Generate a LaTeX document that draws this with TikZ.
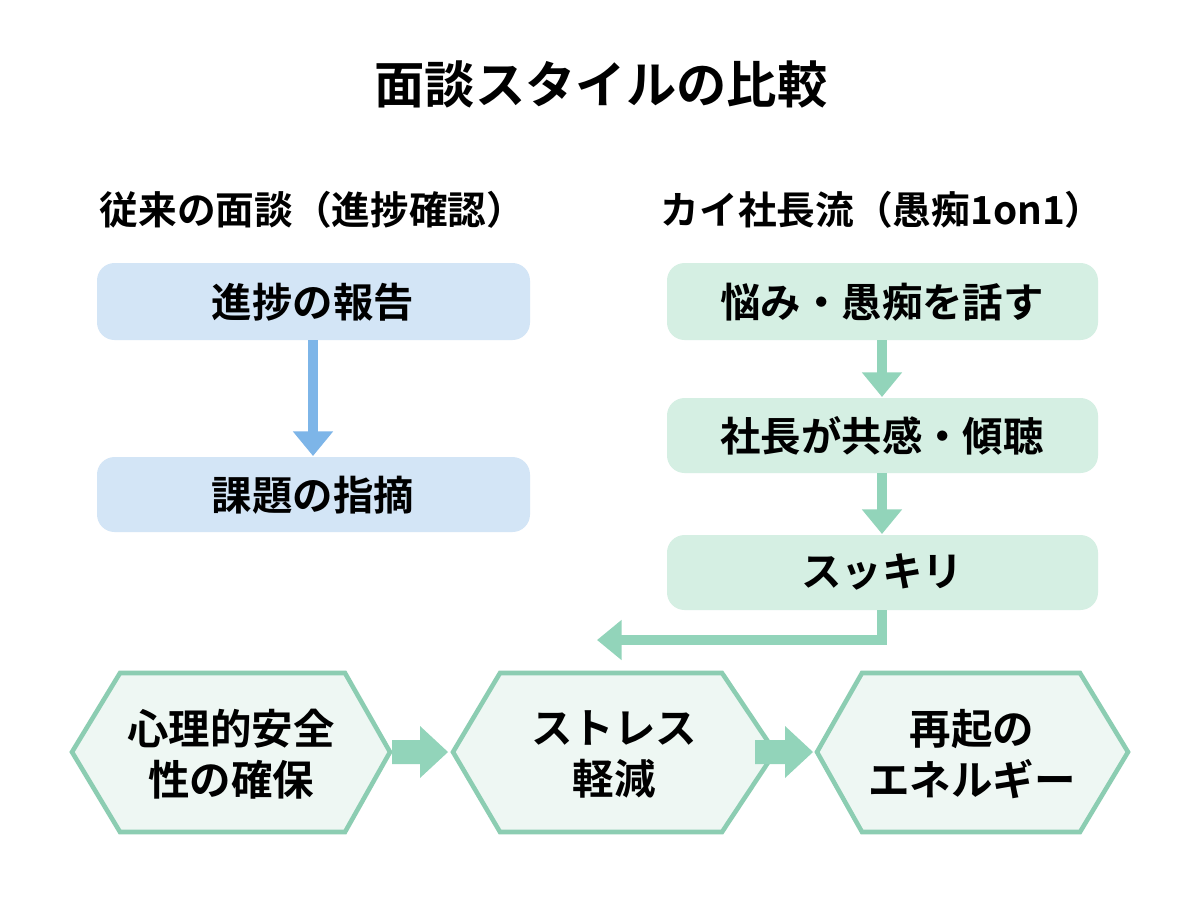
\documentclass[tikz,border=0pt]{standalone}
\usepackage{fontspec}
\setmainfont{Noto Sans CJK JP}[BoldFont={* Bold}]
\usetikzlibrary{arrows.meta}
\definecolor{bfill}{HTML}{D3E5F6}
\definecolor{barrow}{HTML}{7DB5E8}
\definecolor{gfill}{HTML}{D5EFE3}
\definecolor{garrow}{HTML}{92D4BA}
\definecolor{hfill}{HTML}{EEF7F3}
\definecolor{hline}{HTML}{8CCDB2}
\begin{document}
\begin{tikzpicture}[x=0.01cm,y=-0.01cm,
  box/.style={rounded corners=5pt,font=\fontsize{11.5}{13}\bfseries,inner sep=0},
  lbl/.style={font=\fontsize{11.8}{14.5}\bfseries,align=center},
  head/.style={font=\fontsize{11}{13}\bfseries,anchor=west,inner sep=0},
  flow/.style={line width=3pt,-{Triangle[length=7pt,width=11pt]}},
  blk/.style={fill=garrow,draw=none}]
\useasboundingbox[fill=white] (0,0) rectangle (1200,896);
\node[font=\fontsize{14.3}{16}\bfseries] (title) at (601,84) {面談スタイルの比較};
\node[head] (hl) at (99,210) {従来の面談（進捗確認）};
\node[head] (hr) at (660,210) {カイ社長流（愚痴1on1）};
\fill[bfill,rounded corners=5pt] (97,263) rectangle (530,340);
\node[box] (a1) at (313,302) {進捗の報告};
\fill[bfill,rounded corners=5pt] (97,457) rectangle (530,532);
\node[box] (a2) at (313,495) {課題の指摘};
\coordinate (a1b) at (313,340); \coordinate (a2t) at (313,456);
\draw[flow,barrow] (a1b) -- (a2t);
\fill[gfill,rounded corners=5pt] (667,263) rectangle (1098,340);
\node[box] (b1) at (882,302) {悩み・愚痴を話す};
\fill[gfill,rounded corners=5pt] (667,398) rectangle (1098,473);
\node[box] (b2) at (882,436) {社長が共感・傾聴};
\fill[gfill,rounded corners=5pt] (667,535) rectangle (1098,610);
\node[box] (b3) at (882,572) {スッキリ};
\coordinate (b1b) at (882,340); \coordinate (b2t) at (882,397);
\coordinate (b2b) at (882,473); \coordinate (b3t) at (882,534);
\coordinate (b3b) at (882,610); \coordinate (el) at (597,640);
\draw[flow,garrow] (b1b) -- (b2t);
\draw[flow,garrow] (b2b) -- (b3t);
\draw[flow,garrow] (b3b) |- (el);
\foreach \l/\r/\tl/\tr in {72/390/120/345, 453/775/500/722, 817/1128/862/1080}{
  \filldraw[fill=hfill,draw=hline,line width=1.3pt] (\l,752) -- (\tl,673) -- (\tr,673) -- (\r,752) -- (\tr,832) -- (\tl,832) -- cycle;}
\node[lbl] (h1) at (231,754) {心理的安全\\性の確保};
\node[lbl] (h2) at (614,754) {ストレス\\軽減};
\node[lbl] (h3) at (972,754) {再起の\\エネルギー};
\fill[blk] (392,740) -- (420,740) -- (420,726) -- (448,752) -- (420,778) -- (420,764) -- (392,764) -- cycle;
\fill[blk] (755,740) -- (785,740) -- (785,726) -- (813,752) -- (785,778) -- (785,764) -- (755,764) -- cycle;
\end{tikzpicture}
\end{document}
